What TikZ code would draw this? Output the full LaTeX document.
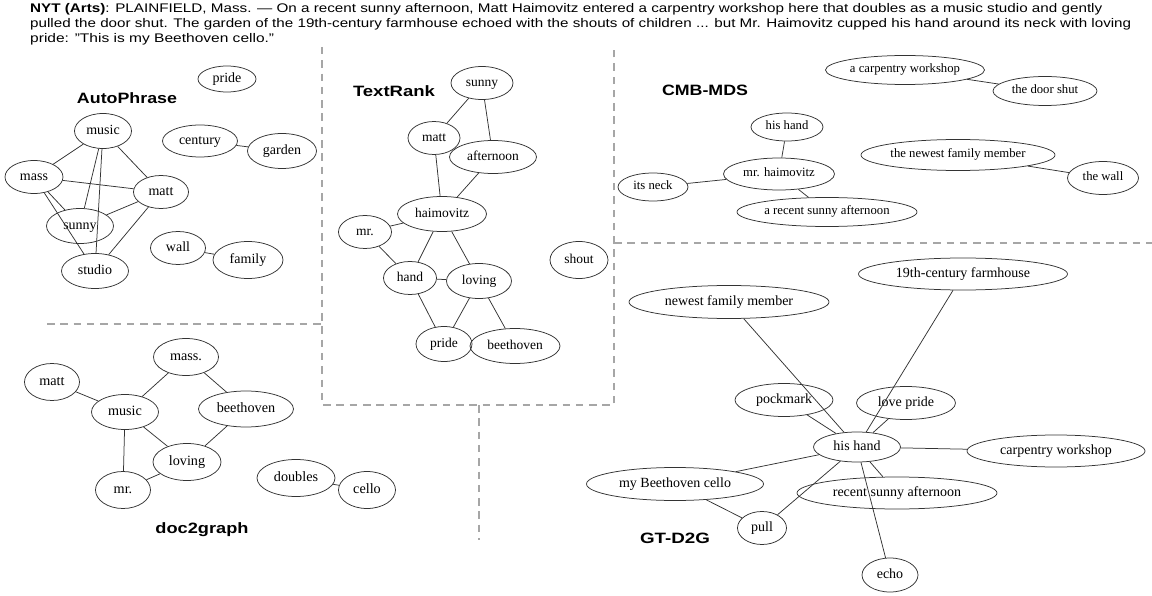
\documentclass[tikz,border=0pt]{standalone}
\usepackage{fontspec}
\setmainfont{Liberation Serif}
\setsansfont{Liberation Sans}
\usetikzlibrary{shapes.geometric}

% a graph vertex: name, x, y, width, height, label
\newcommand\gv[6]{\node[vx, minimum width=#4pt, minimum height=#5pt] (#1) at (#2,#3) {\makebox[0pt]{\strut #6}};}
% a line of text stretched to a given width, height kept
\newcommand\fitw[2]{\resizebox{#1pt}{\height}{#2}}

\tikzset{
  vx/.style={draw=black!80, line width=0.75pt, ellipse, inner sep=0pt},
  ln/.style={draw=black!80, line width=0.75pt},
  sep/.style={draw=black!35, line width=1.4pt, dash pattern=on 7.5pt off 5.8pt},
  ttl/.style={anchor=base, inner sep=0pt, font=\sffamily\bfseries\fontsize{15}{18}\selectfont},
  para/.style={anchor=base west, inner sep=0pt, font=\sffamily\fontsize{12.5}{15}\selectfont},
}

\begin{document}
\begin{tikzpicture}[x=1pt, y=-1pt]
\useasboundingbox (0,0) rectangle (1152,596);

% ---- article excerpt ----
\node[para] (p1) at (30,12.3) {\fitw{1072}{\textbf{NYT (Arts)}: PLAINFIELD, Mass. — On a recent sunny afternoon, Matt Haimovitz entered a carpentry workshop here that doubles as a music studio and gently}};
\node[para] (p2) at (30,27.3) {\fitw{1101}{pulled the door shut. The garden of the 19th-century farmhouse echoed with the shouts of children ... but Mr. Haimovitz cupped his hand around its neck with loving}};
\node[para] (p3) at (30,42.3) {\fitw{244}{pride: "This is my Beethoven cello."}};

% ---- panel separators ----
\coordinate (s1) at (322,47);  \coordinate (s2) at (322,405);
\coordinate (s3) at (47,324);  \coordinate (s4) at (322,324);
\coordinate (s5) at (614,405); \coordinate (s6) at (614,47);
\coordinate (s7) at (614,243); \coordinate (s8) at (1152,243);
\coordinate (s9) at (479,405); \coordinate (s10) at (479,540);
\draw[sep] (s1) -- (s2) -- (s5) -- (s6);
\draw[sep] (s3) -- (s4);
\draw[sep] (s7) -- (s8);
\draw[sep] (s9) -- (s10);

% ---- panel titles ----
\node[ttl] (tA) at (127,103.3) {\fitw{100}{AutoPhrase}};
\node[ttl] (tT) at (394,96.7) {\fitw{82}{TextRank}};
\node[ttl] (tC) at (705,95.5) {\fitw{86}{CMB-MDS}};
\node[ttl] (tD) at (202,533) {\fitw{93}{doc2graph}};
\node[ttl] (tG) at (675,543) {\fitw{70}{GT-D2G}};

% ---- AutoPhrase ----
\begin{scope}[font=\fontsize{14}{16}\selectfont]
\gv{a-pride}{227}{79}{58}{26}{pride}
\gv{a-music}{103}{131}{57}{35}{music}
\gv{a-century}{200}{141}{75}{32}{century}
\gv{a-garden}{282}{151}{69}{35}{garden}
\gv{a-mass}{34}{177}{58}{33}{mass}
\gv{a-matt}{161}{192}{55}{33}{matt}
\gv{a-sunny}{80}{226}{67}{35}{sunny}
\gv{a-studio}{95}{271}{67}{35}{studio}
\gv{a-wall}{178}{248}{55}{33}{wall}
\gv{a-family}{248}{260}{70}{37}{family}
\end{scope}
\draw[ln] (a-music) -- (a-mass);
\draw[ln] (a-music) -- (a-matt);
\draw[ln] (a-mass) -- (a-matt);
\draw[ln] (a-music) -- (a-sunny);
\draw[ln] (a-music) -- (a-studio);
\draw[ln] (a-mass) -- (a-sunny);
\draw[ln] (a-mass) -- (a-studio);
\draw[ln] (a-matt) -- (a-sunny);
\draw[ln] (a-matt) -- (a-studio);
\draw[ln] (a-century) -- (a-garden);
\draw[ln] (a-wall) -- (a-family);

% ---- TextRank ----
\begin{scope}[font=\fontsize{13.5}{15.5}\selectfont]
\gv{t-sunny}{482}{83}{62}{33}{sunny}
\gv{t-matt}{434}{138}{52}{33}{matt}
\gv{t-afternoon}{493}{157}{87}{33}{afternoon}
\gv{t-haimovitz}{442}{214}{89}{35}{haimovitz}
\gv{t-mr}{365}{232}{53}{33}{mr.}
\gv{t-hand}{410}{278}{53}{33}{hand}
\gv{t-loving}{479}{281}{65}{35}{loving}
\gv{t-shout}{579}{260}{58}{37}{shout}
\gv{t-pride}{444}{344}{56}{35}{pride}
\gv{t-beethoven}{515}{346}{90}{35}{beethoven}
\end{scope}
\draw[ln] (t-sunny) -- (t-matt);
\draw[ln] (t-sunny) -- (t-afternoon);
\draw[ln] (t-matt) -- (t-haimovitz);
\draw[ln] (t-afternoon) -- (t-haimovitz);
\draw[ln] (t-haimovitz) -- (t-mr);
\draw[ln] (t-haimovitz) -- (t-hand);
\draw[ln] (t-haimovitz) -- (t-loving);
\draw[ln] (t-mr) -- (t-hand);
\draw[ln] (t-hand) -- (t-loving);
\draw[ln] (t-hand) -- (t-pride);
\draw[ln] (t-loving) -- (t-pride);
\draw[ln] (t-loving) -- (t-beethoven);

% ---- CMB-MDS ----
\begin{scope}[font=\fontsize{12.7}{14.5}\selectfont]
\gv{c-workshop}{905}{70}{159}{29}{a carpentry workshop}
\gv{c-door}{1045}{91}{104}{29}{the door shut}
\gv{c-hand}{787}{127}{72}{28}{his hand}
\gv{c-haimovitz}{779}{174}{111}{32}{mr. haimovitz}
\gv{c-neck}{653}{187}{70}{28}{its neck}
\gv{c-afternoon}{827}{212}{180}{29}{a recent sunny afternoon}
\gv{c-member}{958}{155}{194}{31}{the newest family member}
\gv{c-wall}{1103}{178}{71}{33}{the wall}
\end{scope}
\draw[ln] (c-workshop) -- (c-door);
\draw[ln] (c-hand) -- (c-haimovitz);
\draw[ln] (c-neck) -- (c-haimovitz);
\draw[ln] (c-haimovitz) -- (c-afternoon);
\draw[ln] (c-member) -- (c-wall);

% ---- doc2graph ----
\begin{scope}[font=\fontsize{14.2}{16}\selectfont]
\gv{d-matt}{52}{382}{55}{37}{matt}
\gv{d-mass}{186}{357}{65}{37}{mass.}
\gv{d-music}{125}{412}{67}{35}{music}
\gv{d-beethoven}{246}{409}{95}{36}{beethoven}
\gv{d-loving}{187}{462}{68}{37}{loving}
\gv{d-mr}{123}{490}{55}{37}{mr.}
\gv{d-doubles}{296}{478}{78}{37}{doubles}
\gv{d-cello}{367}{490}{57}{37}{cello}
\end{scope}
\draw[ln] (d-matt) -- (d-music);
\draw[ln] (d-music) -- (d-mass);
\draw[ln] (d-mass) -- (d-beethoven);
\draw[ln] (d-music) -- (d-loving);
\draw[ln] (d-beethoven) -- (d-loving);
\draw[ln] (d-music) -- (d-mr);
\draw[ln] (d-mr) -- (d-loving);
\draw[ln] (d-doubles) -- (d-cello);

% ---- GT-D2G ----
\begin{scope}[font=\fontsize{14}{16}\selectfont]
\gv{g-farmhouse}{963}{274}{209}{32}{19th-century farmhouse}
\gv{g-member}{729}{302}{200}{33}{newest family member}
\gv{g-pockmark}{784}{400}{98}{33}{pockmark}
\gv{g-pride}{906}{403}{99}{33}{love pride}
\gv{g-hand}{857}{447}{87}{30}{his hand}
\gv{g-workshop}{1056}{451}{178}{32}{carpentry workshop}
\gv{g-cello}{675}{484}{177}{33}{my Beethoven cello}
\gv{g-afternoon}{897}{493}{200}{32}{recent sunny afternoon}
\gv{g-pull}{762}{528}{49}{33}{pull}
\gv{g-echo}{890}{575}{56}{34}{echo}
\end{scope}
\draw[ln] (g-hand) -- (g-member);
\draw[ln] (g-hand) -- (g-farmhouse);
\draw[ln] (g-hand) -- (g-pockmark);
\draw[ln] (g-hand) -- (g-pride);
\draw[ln] (g-hand) -- (g-workshop);
\draw[ln] (g-hand) -- (g-cello);
\draw[ln] (g-hand) -- (g-afternoon);
\draw[ln] (g-hand) -- (g-pull);
\draw[ln] (g-hand) -- (g-echo);
\draw[ln] (g-cello) -- (g-pull);
\end{tikzpicture}
\end{document}
